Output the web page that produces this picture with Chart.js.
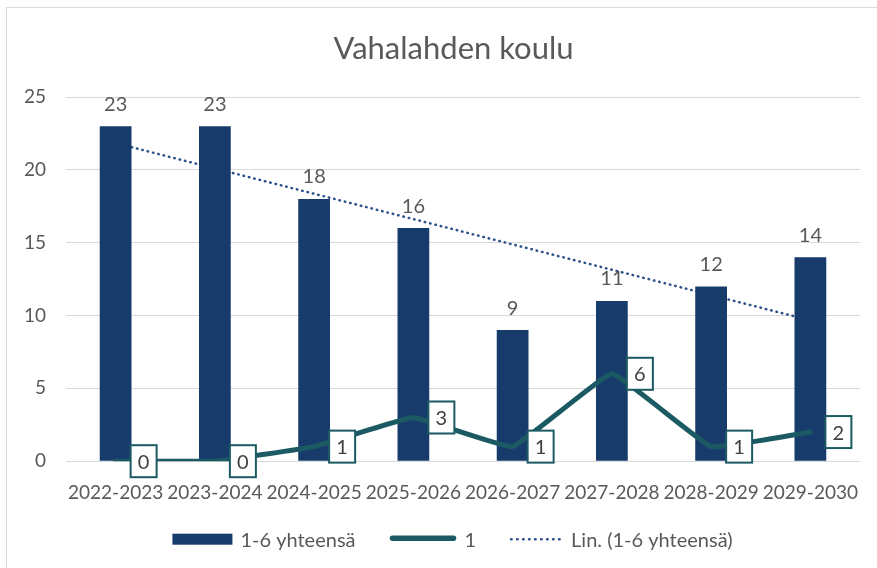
<!DOCTYPE html>
<html>
<head>
<meta charset="utf-8">
<script src="https://cdn.jsdelivr.net/npm/chart.js@4.4.1/dist/chart.umd.min.js"></script>
<style>
  html, body { margin: 0; padding: 0; background: #fff; overflow: hidden; }
  #frame {
    position: absolute; left: 6px; top: 7px;
    width: 897px; height: 561px;
    border: 1px solid #d9d9d9;
  }
</style>
</head>
<body>
<div id="frame"><canvas id="koulu" width="897" height="561"></canvas></div>
<script>
const years = ['2022-2023', '2023-2024', '2024-2025', '2025-2026', '2026-2027', '2027-2028', '2028-2029', '2029-2030'];
const totals = [23, 23, 18, 16, 9, 11, 12, 14];      // 1-6 yhteensä
const firstGrade = [0, 0, 1, 3, 1, 6, 1, 2];        // 1
const yTicks = [0, 5, 10, 15, 20, 25];
const chartTitle = 'Vahalahden koulu';

const navy = '#173c6b';
const teal = '#1c5a63';
const dots = '#2a4f8a';
const grey = '#595959';

// least squares line through the totals (Excel "Lin." trendline)
function linearTrend(values) {
  const n = values.length;
  const mx = (n + 1) / 2;
  const my = values.reduce((a, b) => a + b, 0) / n;
  let sxy = 0, sxx = 0;
  values.forEach((v, i) => {
    sxy += (i + 1 - mx) * (v - my);
    sxx += (i + 1 - mx) * (i + 1 - mx);
  });
  const slope = sxy / sxx;
  return values.map((v, i) => my + slope * (i + 1 - mx));
}
const trend = linearTrend(totals);

Chart.defaults.font.family = 'Lato, "Open Sans", sans-serif';
Chart.defaults.color = grey;

const valueLabels = {
  id: 'valueLabels',
  afterDatasetsDraw(chart) {
    const ctx = chart.ctx;
    ctx.save();
    ctx.font = '20px Lato';
    ctx.fillStyle = grey;
    ctx.textAlign = 'center';
    ctx.textBaseline = 'middle';
    chart.getDatasetMeta(0).data.forEach((bar, i) => {
      ctx.fillText(totals[i], bar.x, bar.y - 22);
    });

    // boxed labels next to the line points
    chart.getDatasetMeta(1).data.forEach((pt, i) => {
      const cx = pt.x + 28, cy = pt.y;
      const w = 26, h = 32;
      ctx.fillStyle = '#fff';
      ctx.fillRect(cx - w / 2, cy - h / 2, w, h);
      ctx.strokeStyle = teal;
      ctx.lineWidth = 2;
      ctx.strokeRect(cx - w / 2, cy - h / 2, w, h);
      ctx.fillStyle = '#404040';
      ctx.fillText(firstGrade[i], cx, cy + 1);
    });
    ctx.restore();
  }
};

// title centred on the whole frame rather than between the paddings
const frameTitle = {
  id: 'frameTitle',
  afterDraw(chart) {
    const ctx = chart.ctx;
    ctx.save();
    ctx.font = '31px Lato';
    ctx.fillStyle = grey;
    ctx.textAlign = 'center';
    ctx.textBaseline = 'alphabetic';
    ctx.fillText(chartTitle, chart.width / 2 - 2, 51);
    ctx.restore();
  }
};

const bottomLegend = {
  id: 'bottomLegend',
  afterDraw(chart) {
    const ctx = chart.ctx;
    const items = [
      { text: '1-6 yhteensä', swatch: 60, kind: 'bar' },
      { text: '1', swatch: 67, kind: 'line' },
      { text: 'Lin. (1-6 yhteensä)', swatch: 53, kind: 'dots' }
    ];
    const gap = 8, spacing = 34;
    ctx.save();
    ctx.font = '20px Lato';
    let total = 0;
    items.forEach((it, i) => {
      it.tw = ctx.measureText(it.text).width;
      total += it.swatch + gap + it.tw + (i < items.length - 1 ? spacing : 0);
    });
    let x = chart.width / 2 - 3 - total / 2;
    const y = chart.chartArea.bottom + 78;
    items.forEach(it => {
      if (it.kind === 'bar') {
        ctx.fillStyle = navy;
        ctx.fillRect(x, y - 5.5, it.swatch, 11);
      } else {
        ctx.beginPath();
        ctx.lineCap = 'round';
        if (it.kind === 'line') {
          ctx.moveTo(x + 3, y - 1);
          ctx.lineTo(x + it.swatch - 3, y - 1);
          ctx.strokeStyle = teal;
          ctx.lineWidth = 5.5;
          ctx.setLineDash([]);
        } else {
          ctx.moveTo(x + 1, y);
          ctx.lineTo(x + it.swatch, y);
          ctx.strokeStyle = dots;
          ctx.lineWidth = 2.5;
          ctx.setLineDash([0.5, 5.5]);
        }
        ctx.stroke();
        ctx.setLineDash([]);
      }
      x += it.swatch + gap;
      ctx.fillStyle = grey;
      ctx.textAlign = 'left';
      ctx.textBaseline = 'middle';
      ctx.fillText(it.text, x, y + 1);
      x += it.tw + spacing;
    });
    ctx.restore();
  }
};

new Chart(document.getElementById('koulu'), {
  data: {
    labels: years,
    datasets: [
      {
        type: 'bar',
        label: '1-6 yhteensä',
        data: totals,
        backgroundColor: navy,
        barPercentage: 0.32,
        categoryPercentage: 1,
        order: 2
      },
      {
        type: 'line',
        label: '1',
        data: firstGrade,
        borderColor: teal,
        borderWidth: 5,
        pointRadius: 0,
        tension: 0.08,
        borderCapStyle: 'round',
        borderJoinStyle: 'round',
        order: 1
      },
      {
        type: 'line',
        label: 'Lin. (1-6 yhteensä)',
        data: trend,
        borderColor: dots,
        borderWidth: 2.5,
        borderDash: [0.5, 5],
        borderCapStyle: 'round',
        pointRadius: 0,
        order: 3
      }
    ]
  },
  options: {
    responsive: false,
    animation: false,
    layout: { padding: { left: 6, right: 44, top: 89, bottom: 53 } },
    scales: {
      x: {
        grid: { display: false },
        border: { display: false },
        ticks: { font: { size: 19 }, color: grey, padding: 12, maxRotation: 0, autoSkip: false },
        afterFit: axis => { axis.paddingLeft = 0; axis.paddingRight = 0; }
      },
      y: {
        min: 0,
        max: 25,
        afterBuildTicks: axis => { axis.ticks = yTicks.map(v => ({ value: v })); },
        afterFit: axis => { axis.width = 53; },
        grid: { color: '#d9d9d9', lineWidth: 1, drawTicks: false },
        border: { display: false },
        ticks: { font: { size: 19 }, color: grey, padding: 20 }
      }
    },
    plugins: {
      legend: { display: false },
      tooltip: { enabled: false },
      title: { display: false }
    }
  },
  plugins: [valueLabels, frameTitle, bottomLegend]
});
</script>
</body>
</html>
